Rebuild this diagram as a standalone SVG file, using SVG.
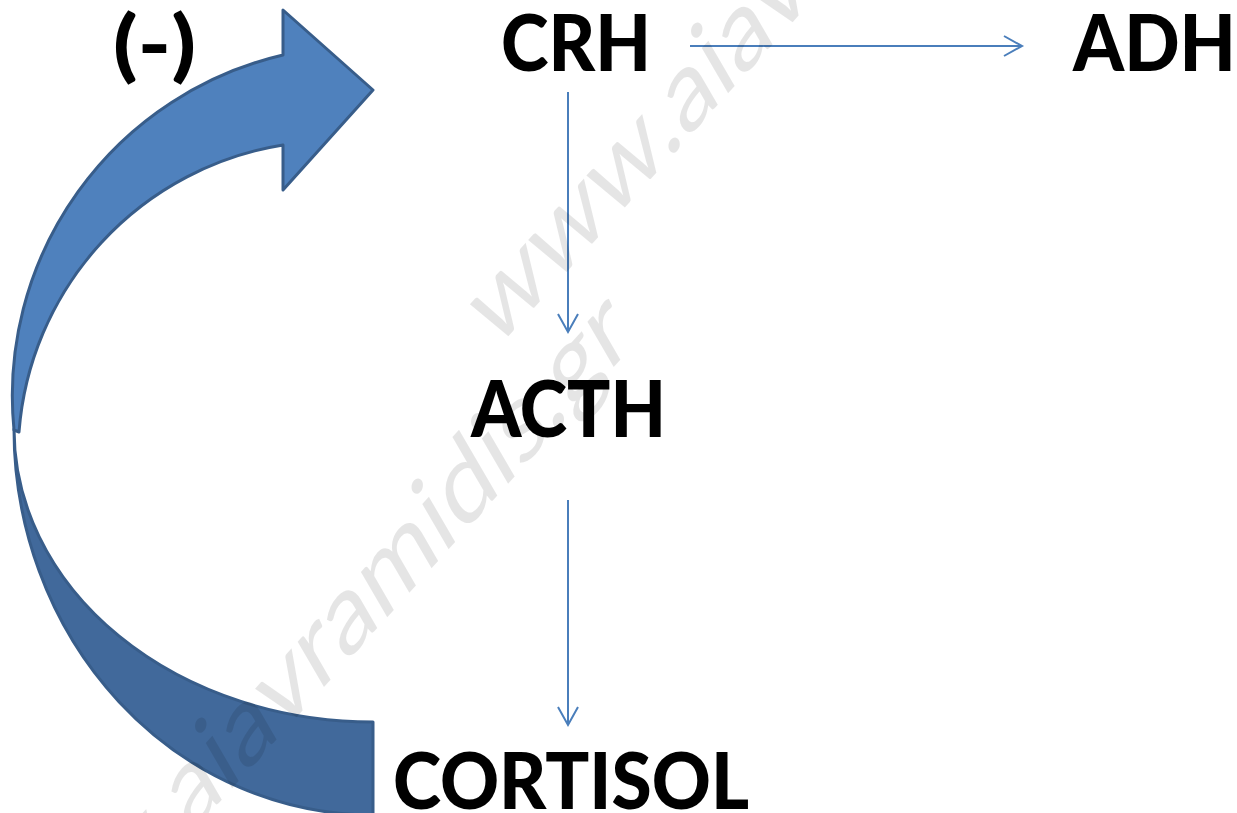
<svg xmlns="http://www.w3.org/2000/svg" width="1237" height="813" viewBox="0 0 1237 813">
  <style>
    .label { font-family: Lato, "Open Sans", "Liberation Sans", sans-serif; font-weight: 900; font-size: 78px; fill: #000; }
    .link { stroke: #4a7ebb; stroke-width: 2; fill: none; }
    .mark { font-family: Lato, "Liberation Sans", sans-serif; font-weight: 400; font-size: 104px; fill: #000; fill-opacity: 0.1; }
    .band { stroke: #385d8a; stroke-width: 3; stroke-linejoin: round; }
  </style>
  <defs>
    <marker id="openArrow" markerUnits="userSpaceOnUse" markerWidth="24" markerHeight="26" viewBox="-21 -13 24 26" refX="0" refY="0" orient="auto">
      <path d="M -18 -10 L 0 0 L -18 10" fill="none" stroke="#4a7ebb" stroke-width="2" stroke-linejoin="miter"/>
    </marker>
  </defs>

  <rect width="1237" height="813" fill="#fff"/>

  <!-- curved feedback arrow: darker back band first, then front band with head -->
  <g id="feedback">
    <path class="band" fill="#41699b" d="M 373 722 A 359 293 0 0 1 14 429 A 359 386 0 0 0 373 815 Z"/>
    <path class="band" fill="#4f81bd" d="M 283 55 A 350 350 0 0 0 14 430 L 19 432 A 315 315 0 0 1 283 145 L 283 190 L 373 90 L 283 10 Z"/>
  </g>

  <g id="connectors">
    <line class="link" x1="690" y1="46" x2="1022" y2="46" marker-end="url(#openArrow)"/>
    <line class="link" x1="568" y1="92" x2="568" y2="332" marker-end="url(#openArrow)"/>
    <line class="link" x1="568" y1="500" x2="568" y2="725" marker-end="url(#openArrow)"/>
  </g>

  <g id="neg"><text class="label" x="113" y="72" textLength="83" lengthAdjust="spacingAndGlyphs">(-)</text></g>
  <g id="crh"><text class="label" x="501" y="71" textLength="150" lengthAdjust="spacingAndGlyphs">CRH</text></g>
  <g id="adh"><text class="label" x="1073" y="71" textLength="163" lengthAdjust="spacingAndGlyphs">ADH</text></g>
  <g id="acth"><text class="label" x="471" y="437" textLength="195" lengthAdjust="spacingAndGlyphs">ACTH</text></g>
  <g id="cortisol"><text class="label" x="393" y="809" textLength="356" lengthAdjust="spacingAndGlyphs">CORTISOL</text></g>

  <!-- diagonal site mark, two parallel runs -->
  <g id="sitemark">
    <text class="mark" transform="matrix(0.67,-0.74,0.5,0.86,495,351)" textLength="950" lengthAdjust="spacingAndGlyphs">www.aiavramidis.gr</text>
    <text class="mark" transform="matrix(0.67,-0.74,0.5,0.86,-1,1046)" textLength="950" lengthAdjust="spacingAndGlyphs">www.aiavramidis.gr</text>
  </g>
</svg>
